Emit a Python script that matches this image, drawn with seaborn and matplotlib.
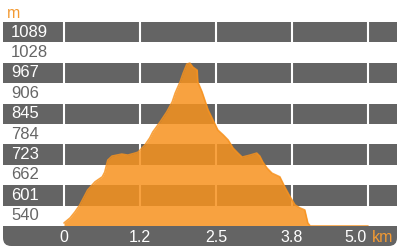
import matplotlib
matplotlib.use("Agg")
import matplotlib.pyplot as plt
from matplotlib.patches import FancyBboxPatch, Rectangle
import seaborn as sns
import pandas as pd

# ---- data ----
distance_km = [0.00, 0.10, 0.18, 0.26, 0.39, 0.51, 0.63, 0.67, 0.72, 0.79, 0.87, 0.95,
               1.05, 1.17, 1.22, 1.33, 1.41, 1.46, 1.58, 1.69, 1.78, 1.83, 1.91, 1.96,
               2.02, 2.07, 2.12, 2.19, 2.20, 2.27, 2.32, 2.37, 2.45, 2.53, 2.62, 2.70,
               2.78, 2.86, 2.93, 3.06, 3.17, 3.22, 3.27, 3.34, 3.42, 3.55, 3.63, 3.72,
               3.80, 3.88, 3.96, 4.01, 4.05, 5.00]
elevation_m = [549, 564, 582, 603, 648, 672, 687, 701, 737, 749, 752, 755,
               752, 758, 761, 782, 803, 821, 851, 881, 911, 938, 971, 997,
               1024, 1027, 1015, 1006, 971, 941, 914, 887, 857, 827, 812, 797,
               773, 758, 746, 752, 758, 749, 731, 713, 698, 687, 657, 627,
               603, 594, 588, 549, 540, 540]
y_tick_labels = [540, 601, 662, 723, 784, 845, 906, 967, 1028, 1089]
x_tick_values = [0, 1.25, 2.5, 3.75, 5.0]
x_tick_labels = ["0", "1.2", "2.5", "3.8", "5.0"]
y_unit = "m"
x_unit = "km"

df = pd.DataFrame({"distance": distance_km, "elevation": elevation_m})

DARK = "#646464"
ORANGE = "#F7921E"
LABEL_ORANGE = "#F39A33"
FONT = "Liberation Sans"

sns.set_theme(style="white")
plt.rcParams["font.family"] = [FONT, "DejaVu Sans"]

W, H = 407, 250
fig = plt.figure(figsize=(W / 100, H / 100), dpi=100)
fig.patch.set_facecolor("white")

ax_left, ax_right = 3 / W, 397 / W
ax_bottom, ax_top = (H - 226) / H, (H - 22) / H
ax = fig.add_axes([ax_left, ax_bottom, ax_right - ax_left, ax_top - ax_bottom])

step = 61
ymin = y_tick_labels[0]
ymax = y_tick_labels[-1] + step
px_per_km = 60.8
xmin = (3 - 64) / px_per_km
xmax = (397 - 64) / px_per_km
ax.set_xlim(xmin, xmax)
ax.set_ylim(ymin, ymax)

# bands
for i, v in enumerate(y_tick_labels):
    if i % 2 == 1:
        ax.axhspan(v, v + step, color=DARK, lw=0, zorder=0)

# vertical grid lines
for xv in x_tick_values:
    ax.axvline(xv, color="white", lw=1.5, zorder=1)

# profile outline (under fill) and fill
sns.lineplot(data=df, x="distance", y="elevation", ax=ax, color=ORANGE, lw=1.2,
             alpha=0.85, zorder=1.5)
ax.fill_between(df["distance"], ymin, df["elevation"], color=ORANGE, alpha=0.85,
                lw=0, zorder=2)

# y labels inside bands
for i, v in enumerate(y_tick_labels):
    col = "white" if i % 2 == 1 else "#666666"
    ax.text(8 / px_per_km + xmin, v + step / 2, str(v), color=col, fontsize=12,
            va="center", ha="left", zorder=4)

ax.set_xlabel("")
ax.set_ylabel("")
ax.set_xticks([])
ax.set_yticks([])
for s in ax.spines.values():
    s.set_visible(False)

# bottom x-axis bar
bx0, bx1 = 3 / W, 397 / W
fig.patches.append(FancyBboxPatch((bx0, 4 / H), bx1 - bx0, 18 / H,
                                  boxstyle="round,pad=0,rounding_size=0.02",
                                  transform=fig.transFigure, facecolor=DARK,
                                  edgecolor="none", mutation_aspect=W / H))
fig.patches.append(Rectangle((bx0, 12 / H), bx1 - bx0, 12 / H,
                             transform=fig.transFigure, facecolor=DARK,
                             edgecolor="none"))

for xv, lab in zip(x_tick_values, x_tick_labels):
    xf = (64 + xv * px_per_km) / W
    ha = "center"
    if lab == x_tick_labels[-1]:
        ha = "right"
        xf = 367 / W
    fig.text(xf, (H - 237) / H, lab, color="white", fontsize=11.5, ha=ha,
             va="center")
fig.text(372 / W, (H - 237) / H, x_unit, color=LABEL_ORANGE, fontsize=11.5,
         ha="left", va="center")
fig.text(7 / W, (H - 14) / H, y_unit, color=LABEL_ORANGE, fontsize=11.5,
         ha="left", va="center")

fig.savefig("out.png", dpi=100, facecolor="white")
